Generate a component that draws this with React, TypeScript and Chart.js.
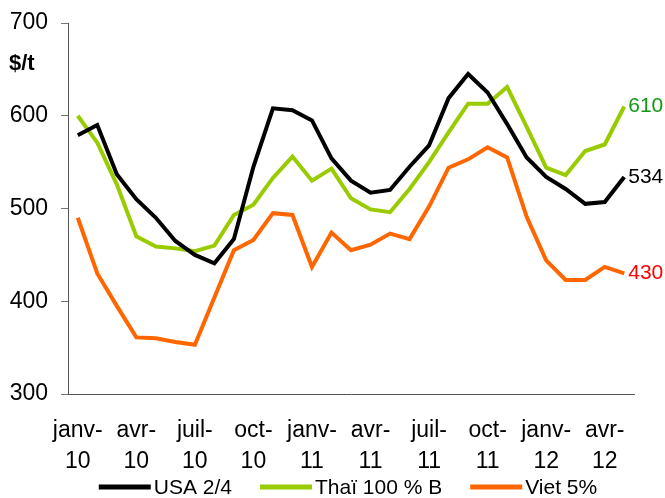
import React, { useEffect, useRef } from "react";
import { Chart, registerables } from "chart.js";

Chart.register(...registerables);

const months = [
  "janv-10", "févr-10", "mars-10", "avr-10", "mai-10", "juin-10", "juil-10", "août-10", "sept-10", "oct-10", "nov-10", "déc-10",
  "janv-11", "févr-11", "mars-11", "avr-11", "mai-11", "juin-11", "juil-11", "août-11", "sept-11", "oct-11", "nov-11", "déc-11",
  "janv-12", "févr-12", "mars-12", "avr-12", "mai-12",
];

const usa = [579, 590, 537, 510, 490, 465, 450, 441, 467, 545, 608, 606, 595, 554, 530, 517, 520, 545, 568, 619, 645, 625, 591, 555, 534, 521, 505, 507, 534];
const thai = [600, 571, 526, 470, 459, 457, 454, 460, 493, 504, 533, 556, 530, 543, 511, 499, 496, 521, 550, 582, 613, 613, 631, 588, 544, 536, 562, 569, 610];
const viet = [490, 430, 395, 361, 360, 356, 353, 404, 455, 466, 495, 493, 437, 474, 455, 461, 473, 467, 502, 544, 553, 566, 555, 491, 444, 423, 423, 437, 430];

const seriesNames = ["USA 2/4", "Thaï 100 % B", "Viet 5%"];
const seriesColors = ["#000000", "#99cc00", "#ff6600"];
const endLabelColors = ["#000000", "#119911", "#ff0000"];
const yTicks = [300, 400, 500, 600, 700];
const unitLabel = "$/t";

const FONT = "'Liberation Sans', Arial, sans-serif";

const overlayPlugin = {
  id: "overlay",
  afterDatasetsDraw(chart: any) {
    const ctx = chart.ctx;
    const area = chart.chartArea;
    ctx.save();
    // end value labels
    chart.data.datasets.forEach((ds: any, i: number) => {
      const meta = chart.getDatasetMeta(i);
      const last = meta.data[meta.data.length - 1];
      const v = ds.data[ds.data.length - 1];
      ctx.font = `21px ${FONT}`;
      ctx.fillStyle = endLabelColors[i];
      ctx.textAlign = "left";
      ctx.textBaseline = "middle";
      ctx.fillText(String(v), last.x + 4, last.y);
    });
    // unit label
    ctx.font = `bold 22px ${FONT}`;
    ctx.fillStyle = "#000";
    ctx.textAlign = "left";
    ctx.textBaseline = "middle";
    ctx.fillText(unitLabel, 9, area.top + 41);
    // legend
    ctx.font = `21px ${FONT}`;
    const lineLen = 52;
    const gapText = 3;
    const gapItem = 28;
    const widths = seriesNames.map((n) => ctx.measureText(n).width);
    const total = widths.reduce((a, w) => a + lineLen + gapText + w, 0) + gapItem * (seriesNames.length - 1);
    let x = (area.left + area.right) / 2 - 3 - total / 2;
    const y = 487;
    seriesNames.forEach((n, i) => {
      ctx.strokeStyle = seriesColors[i];
      ctx.lineWidth = 5;
      ctx.beginPath();
      ctx.moveTo(x, y);
      ctx.lineTo(x + lineLen, y);
      ctx.stroke();
      x += lineLen + gapText;
      ctx.fillStyle = "#000";
      ctx.fillText(n, x, y + 1);
      x += widths[i] + gapItem;
    });
    ctx.restore();
  },
};

export default function App() {
  const ref = useRef<HTMLCanvasElement | null>(null);
  useEffect(() => {
    document.body.style.margin = "0";
    if (!ref.current) return;
    const seriesData = [usa, thai, viet];
    const chart = new Chart(ref.current, {
      type: "line",
      data: {
        labels: months,
        datasets: seriesNames.map((name, i) => ({
          label: name,
          data: seriesData[i],
          borderColor: seriesColors[i],
          backgroundColor: seriesColors[i],
          borderWidth: 4,
          pointRadius: 0,
          tension: 0,
          fill: false,
        })),
      },
      options: {
        responsive: false,
        animation: false,
        layout: { padding: { left: 0, right: 31, top: 23, bottom: 0 } },
        plugins: { legend: { display: false }, tooltip: { enabled: false } },
        scales: {
          x: {
            type: "category",
            offset: true,
            grid: { display: false },
            border: { display: true, color: "#555", width: 1 },
            ticks: {
              autoSkip: false,
              maxRotation: 0,
              minRotation: 0,
              padding: 13,
              color: "#000",
              font: { family: FONT, size: 23, lineHeight: 1.35 },
              callback: (_v: any, i: number) => {
                if (i % 3 !== 0) return "";
                const s = months[i];
                const k = s.indexOf("-");
                return [s.slice(0, k + 1), s.slice(k + 1)];
              },
            },
            afterFit: (s: any) => {
              s.height = 104;
              s.paddingLeft = 0;
              s.paddingRight = 0;
            },
          },
          y: {
            min: yTicks[0],
            max: yTicks[yTicks.length - 1],
            afterBuildTicks: (s: any) => {
              s.ticks = yTicks.map((v) => ({ value: v }));
            },
            grid: { display: true, drawOnChartArea: false, drawTicks: true, tickLength: 7, color: "#777" },
            border: { display: true, color: "#555", width: 1 },
            ticks: {
              padding: 13,
              color: "#000",
              font: { family: FONT, size: 23 },
            },
            afterFit: (s: any) => {
              s.width = 68;
              s.paddingTop = 0;
              s.paddingBottom = 0;
            },
          },
        },
      },
      plugins: [overlayPlugin],
    });
    return () => chart.destroy();
  }, []);
  return (
    <div style={{ position: "absolute", left: 0, top: 0, width: 665, height: 498, background: "#fff" }}>
      <canvas ref={ref} width={665} height={498} />
    </div>
  );
}
